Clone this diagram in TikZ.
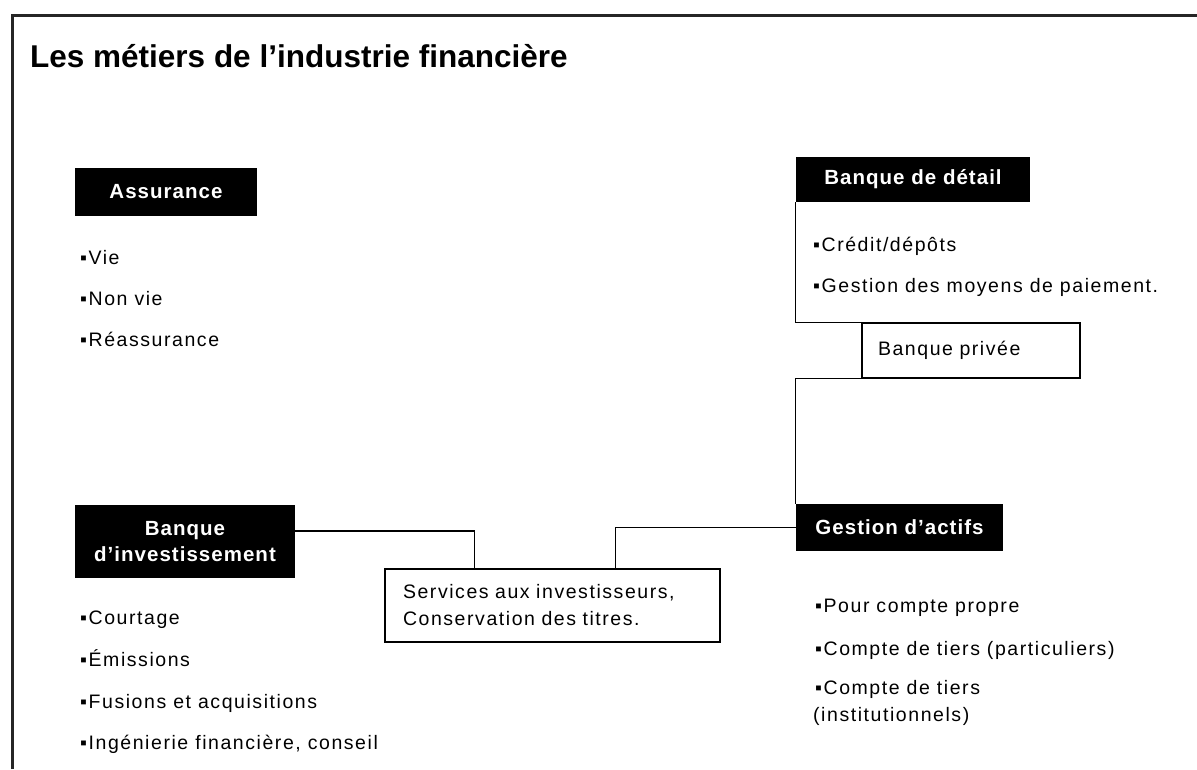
\documentclass[tikz,border=0pt]{standalone}
\usepackage{fontspec}
\setmainfont{Liberation Sans}
\newfontfamily\bodyfont[LetterSpace=8]{Liberation Sans}
\newfontfamily\headfont[LetterSpace=5]{Liberation Sans}
\begin{document}
\begin{tikzpicture}[x=1pt,y=-1pt,
  head/.style={fill=black, text=white, font=\headfont\bfseries\fontsize{20.5}{26}\selectfont, inner sep=0pt, align=center},
  wbox/.style={draw=black, line width=1.3pt, fill=white, font=\bodyfont\fontsize{19.5}{27}\selectfont, align=left, inner ysep=0pt},
  item/.style={font=\bodyfont\fontsize{19.5}{27}\selectfont, inner sep=0pt, anchor=base west},
  link/.style={draw=black, line width=1.3pt}]
\useasboundingbox (0,0) rectangle (1197,769);
\draw[line width=3pt, black!85] (12,769) -- (12,15) -- (1197,15);

\node[anchor=base west, inner sep=0pt, font=\bfseries\fontsize{31.5}{36}\selectfont] (title) at (30,67) {Les métiers de l’industrie financière};

% headers
\node[head, minimum width=182pt, minimum height=48pt] (as) at (166,192) {Assurance};
\node[head, minimum width=234pt, minimum height=45pt] (bd) at (913,179.5) {Banque de détail};
\node[head, minimum width=207pt, minimum height=47pt] (ga) at (899.5,527.5) {Gestion d’actifs};
\node[head, minimum width=220pt, minimum height=73pt] (bi) at (185,541.5) {Banque\\d’investissement};

% white boxes
\node[wbox, minimum height=55pt, text width=186pt, inner xsep=16pt] (bp) at (971,350.5) {Banque privée};
\node[wbox, minimum height=73pt, text width=299pt, inner xsep=18pt] (sv) at (552.5,605.5) {Services aux investisseurs,\\Conservation des titres.};

% connectors
\draw[link] (bd.south west) |- (bp.north west);
\draw[link] (bp.south west) -| (ga.north west);
\draw[link] ([yshift=10.5pt]bi.east) -| ([xshift=90pt]sv.north west);
\draw[link] (ga.west) -| ([xshift=231pt]sv.north west);

% Assurance items
\node[item] (as1) at (80,264.5) {▪Vie};
\node[item] (as2) at (80,305.5) {▪Non vie};
\node[item] (as3) at (80,346.5) {▪Réassurance};

% Banque de détail items
\node[item] (bd1) at (813,251.5) {▪Crédit/dépôts};
\node[item] (bd2) at (813,292.5) {▪Gestion des moyens de paiement.};

% Banque d'investissement items
\node[item] (bi1) at (80,624.5) {▪Courtage};
\node[item] (bi2) at (80,666) {▪Émissions};
\node[item] (bi3) at (80,708) {▪Fusions et acquisitions};
\node[item] (bi4) at (80,749.5) {▪Ingénierie financière, conseil};

% Gestion d'actifs items
\node[item] (ga1) at (815,612.5) {▪Pour compte propre};
\node[item] (ga2) at (815,655.5) {▪Compte de tiers (particuliers)};
\node[item] (ga3) at (815,694.5) {▪Compte de tiers};
\node[item] (ga4) at (813,721.5) {(institutionnels)};
\end{tikzpicture}
\end{document}
